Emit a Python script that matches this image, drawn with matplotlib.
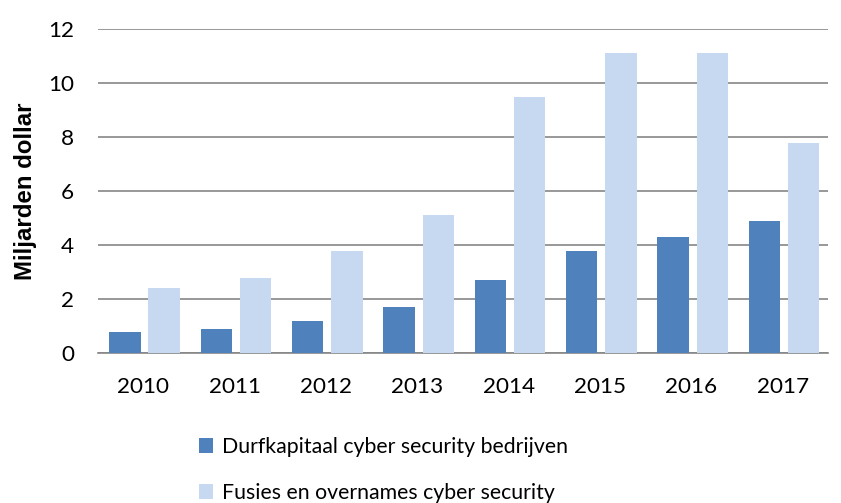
import matplotlib.pyplot as plt
import numpy as np

plt.rcParams['font.family'] = ['Lato', 'DejaVu Sans']

jaren = ['2010', '2011', '2012', '2013', '2014', '2015', '2016', '2017']
durfkapitaal = [0.8, 0.9, 1.2, 1.7, 2.7, 3.8, 4.3, 4.9]
fusies = [2.4, 2.8, 3.8, 5.1, 9.5, 11.1, 11.1, 7.8]
labels = ['Durfkapitaal cyber security bedrijven', 'Fusies en overnames cyber security']


def plotgraph():
    fig = plt.figure(figsize=(8.41, 5.03), dpi=100)
    ax = fig.add_axes([0.116, 0.298, 0.869, 0.644])
    x = np.arange(len(jaren))
    w = 0.345
    b1 = ax.bar(x - 0.2, durfkapitaal, w, color='#4F81BD', label=labels[0], zorder=3)
    b2 = ax.bar(x + 0.23, fusies, w, color='#C6D9F1', label=labels[1], zorder=3)

    ax.set_xlim(-0.5, len(jaren) - 0.5)
    ax.set_ylim(0, 12)
    ax.set_yticks(range(0, 13, 2))
    ax.set_xticks(x)
    ax.set_xticklabels(jaren)
    ax.tick_params(length=0, labelsize=16.2, colors='black')
    ax.tick_params(axis='y', pad=17)
    ax.tick_params(axis='x', pad=17)
    ax.grid(axis='y', color='#868686', linewidth=1.2, zorder=0)
    for s in ['top', 'right', 'left']:
        ax.spines[s].set_visible(False)
    ax.spines['bottom'].set_color('#868686')
    ax.spines['bottom'].set_linewidth(1.2)
    ax.set_ylabel('Miljarden dollar', fontsize=17.3, fontweight='bold',
                  family=['Liberation Sans', 'DejaVu Sans'], labelpad=8)

    fig.legend(handles=[b1, b2], loc='upper left', bbox_to_anchor=(0.227, 0.148),
               frameon=False, fontsize=15.3, handlelength=0.65, handleheight=0.65,
               handletextpad=0.4, labelspacing=1.22, borderaxespad=0)
    fig.savefig('out.png', dpi=100)


if __name__ == "__main__":
    plotgraph()
